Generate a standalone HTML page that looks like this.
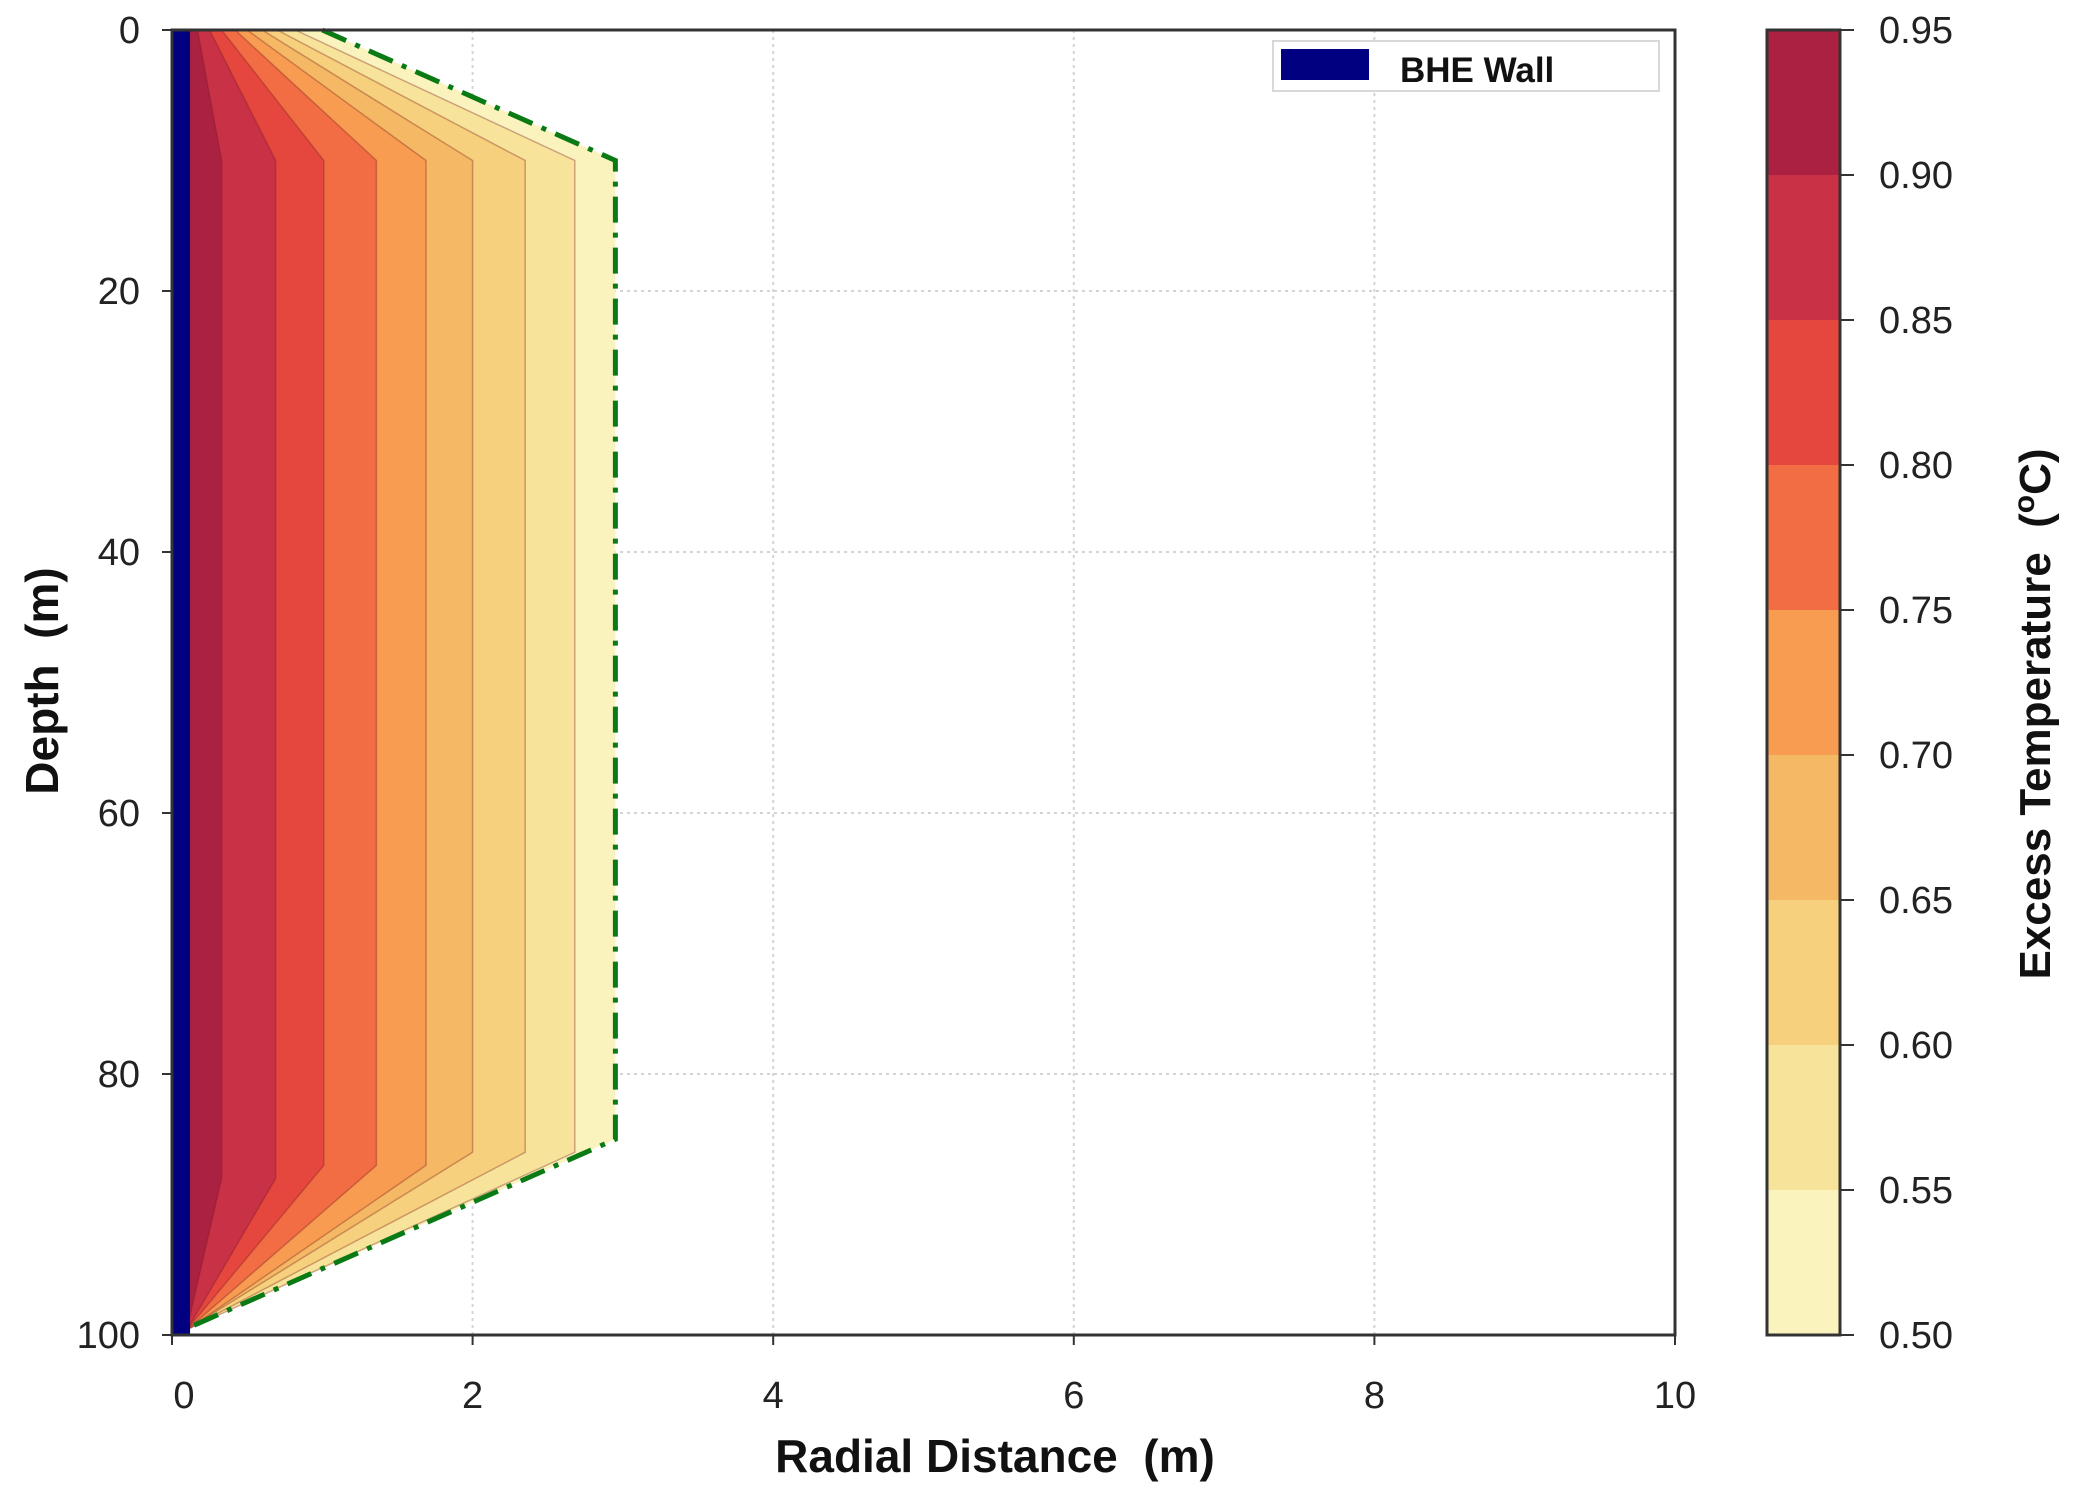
<!DOCTYPE html>
<html><head><meta charset="utf-8"><style>
html,body{margin:0;padding:0;background:#fff;}
svg{display:block;font-family:"Liberation Sans",Arial,sans-serif;}
text{white-space:pre;}
</style></head><body>
<svg id="chart" width="2073" height="1498" viewBox="0 0 2073 1498" xmlns="http://www.w3.org/2000/svg" xml:space="preserve">
<g id="grid"></g>
<g id="bands"></g>
<g id="overlay"></g>
<g id="axes"></g>
<g id="cbar"></g>
<g>
<rect x="1273" y="41" width="386" height="50" fill="#fff" stroke="#d8d8d8" stroke-width="2"/>
<rect x="1281" y="49" width="88" height="31" fill="#000080"/>
<text x="1400" y="82" font-size="35" font-weight="bold" fill="#111">BHE Wall</text>
</g>
<text x="995" y="1472" font-size="46" font-weight="bold" text-anchor="middle" fill="#111">Radial Distance  (m)</text>
<text transform="translate(58,681) rotate(-90)" font-size="46" font-weight="bold" text-anchor="middle" fill="#111">Depth  (m)</text>
<text transform="translate(2050,714) rotate(-90)" font-size="44" font-weight="bold" text-anchor="middle" fill="#111">Excess Temperature  (<tspan font-size="30" dy="-16">o</tspan><tspan dy="16">C)</tspan></text>
</svg>
<script>
// data
const xTicks = [0, 2, 4, 6, 8, 10];
const yTicks = [0, 20, 40, 60, 80, 100];
const levels = [0.50, 0.55, 0.60, 0.65, 0.70, 0.75, 0.80, 0.85, 0.90, 0.95];
const levelLabels = ["0.50","0.55","0.60","0.65","0.70","0.75","0.80","0.85","0.90","0.95"];
// contour boundary x (m) for lower level of each band, from 0.50 upward
const contourTopX = [1.0, 0.82, 0.70, 0.60, 0.50, 0.42, 0.33, 0.25, 0.17];
const contourMidX = [2.95, 2.68, 2.35, 2.0, 1.69, 1.36, 1.01, 0.69, 0.33];
const contourTopDepth = [10, 10, 10, 10, 10, 10, 10, 10, 10];
const contourBotDepth = [85, 86, 86, 86, 87, 87, 87, 88, 88];
const contourEndX = [0.0, 0.02, 0.03, 0.04, 0.05, 0.06, 0.07, 0.08, 0.09];
const wallRadius = 0.12;
const bandColors = ["#fbf3be","#f8e39b","#f6d07c","#f5b864","#f79c51","#f36d44","#e5473f","#c93146","#ab2141"];

const X0=172, X1=1675, Y0=30, Y1=1335;
const xs = v => X0 + (v - 0) / 10 * (X1 - X0);
const ys = v => Y0 + (v - 0) / 100 * (Y1 - Y0);
const cs = v => Y1 - (v - 0.50) / 0.45 * (Y1 - Y0);
const NS = "http://www.w3.org/2000/svg";
function mk(tag, parent, attrs){const e=document.createElementNS(NS,tag);for(const k in attrs)e.setAttribute(k,attrs[k]);parent.appendChild(e);return e;}

const grid=document.getElementById('grid');
xTicks.slice(1,-1).forEach(t=>{
  const l=mk('line',grid,{x1:xs(t),x2:xs(t),y1:Y0,y2:Y1,stroke:'#d4d4d4','stroke-width':2,'stroke-dasharray':'3,4'});
  
  
});
yTicks.slice(1,-1).forEach(t=>{
  const l=mk('line',grid,{x1:X0,x2:X1,y1:ys(t),y2:ys(t),stroke:'#d4d4d4','stroke-width':2,'stroke-dasharray':'3,4'});
  
  
});

const bands=document.getElementById('bands');
for(let i=0;i<contourTopX.length;i++){
  const pts=[[0,0],[contourTopX[i],0],[contourMidX[i],contourTopDepth[i]],[contourMidX[i],contourBotDepth[i]],[contourEndX[i],100],[0,100]];
  const p=mk('polygon',bands,{points:pts.map(q=>xs(q[0])+','+ys(q[1])).join(' '),fill:bandColors[i],stroke:i===0?'none':'rgba(120,30,30,0.35)','stroke-width':1.5});
  
  
}

const ov=document.getElementById('overlay');
const outline=[[contourTopX[0],0],[contourMidX[0],contourTopDepth[0]],[contourMidX[0],contourBotDepth[0]],[contourEndX[0],100]];
const ol=mk('polyline',ov,{points:outline.map(q=>xs(q[0])+','+ys(q[1])).join(' '),fill:'none',stroke:'#0a7a14','stroke-width':5,'stroke-dasharray':'26,10,5,10'});


const wall=mk('rect',ov,{x:xs(0),y:ys(0),width:xs(wallRadius)-xs(0),height:ys(100)-ys(0),fill:'#000080'});



const ax=document.getElementById('axes');
const fr=mk('rect',ax,{x:X0,y:Y0,width:X1-X0,height:Y1-Y0,fill:'none',stroke:'#333','stroke-width':3});


xTicks.forEach((t,i)=>{
  mk('line',ax,{x1:xs(t),x2:xs(t),y1:Y1,y2:Y1+10,stroke:'#333','stroke-width':2});
  const tx=mk('text',ax,{x:xs(t)+(i===0?12:0),y:1408,'font-size':38,'text-anchor':'middle',fill:'#222'});
  tx.textContent=t;
  
  
});
yTicks.forEach(t=>{
  mk('line',ax,{x1:X0-10,x2:X0,y1:ys(t),y2:ys(t),stroke:'#333','stroke-width':2});
  const tx=mk('text',ax,{x:140,y:ys(t)+13,'font-size':38,'text-anchor':'end',fill:'#222'});
  tx.textContent=t;
  
  
});

const cb=document.getElementById('cbar');
const CX0=1767, CX1=1840;
for(let i=0;i<bandColors.length;i++){
  const r=mk('rect',cb,{x:CX0,y:cs(levels[i+1]),width:CX1-CX0,height:cs(levels[i])-cs(levels[i+1]),fill:bandColors[i]});
  
  
}
mk('rect',cb,{x:CX0,y:Y0,width:CX1-CX0,height:Y1-Y0,fill:'none',stroke:'#333','stroke-width':3});
levels.forEach((v,i)=>{
  mk('line',cb,{x1:CX1,x2:CX1+14,y1:cs(v),y2:cs(v),stroke:'#333','stroke-width':2});
  const tx=mk('text',cb,{x:1879,y:cs(v)+13,'font-size':38,fill:'#222'});
  tx.textContent=levelLabels[i];
  
  
});
</script>
</body></html>
